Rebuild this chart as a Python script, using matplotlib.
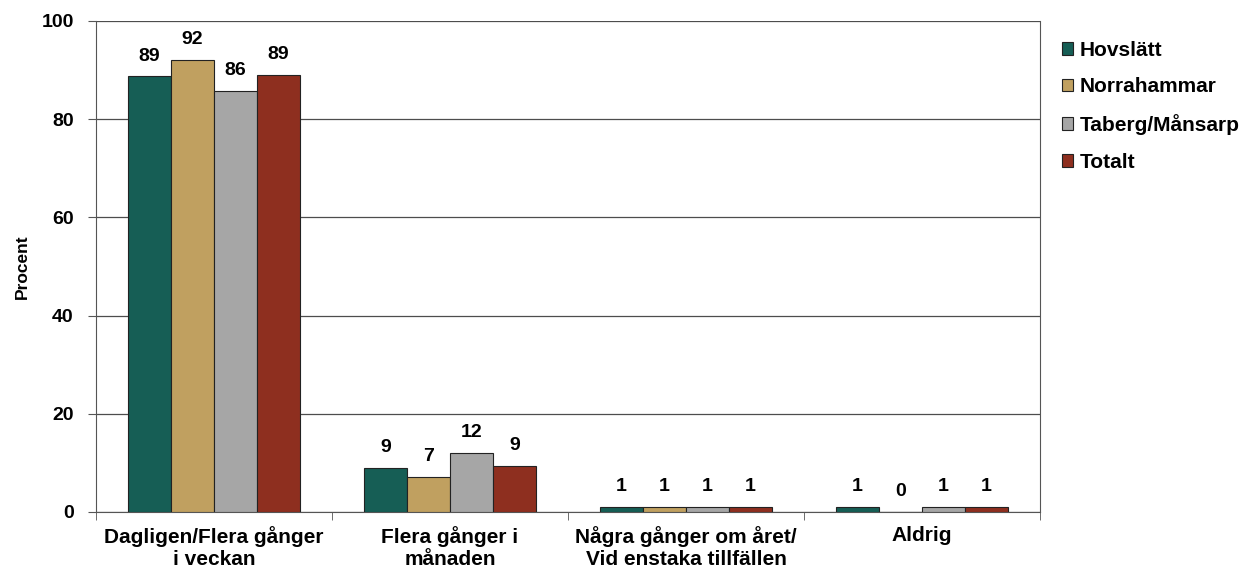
import numpy as np
import matplotlib
matplotlib.use("Agg")
import matplotlib.pyplot as plt

plt.rcParams["font.family"] = ["Liberation Sans", "DejaVu Sans"]
plt.rcParams["font.weight"] = "bold"

# === Data ===
categories = ["Dagligen/Flera gånger\ni veckan", "Flera gånger i\nmånaden",
              "Några gånger om året/\nVid enstaka tillfällen", "Aldrig"]
series_names = ["Hovslätt", "Norrahammar", "Taberg/Månsarp", "Totalt"]
hovslatt = [88.7, 9.0, 1.0, 1.0]
norrahammar = [92.1, 7.1, 1.0, 0.0]
taberg = [85.7, 12.0, 1.0, 1.0]
totalt = [89.0, 9.4, 1.0, 1.0]
colors = ["#165E55", "#C0A060", "#A6A6A6", "#8E2F1F"]

# === Figur ===
fig = plt.figure(figsize=(12.44, 5.72), dpi=100)
ax = fig.add_axes([0.0772, 0.1049, 0.7588, 0.8584])

x = np.arange(len(categories))
w = 0.182
all_series = [hovslatt, norrahammar, taberg, totalt]
for i, (vals, name, c) in enumerate(zip(all_series, series_names, colors)):
    pos = x + (i - 1.5) * w
    ax.bar(pos, vals, width=w, color=c, edgecolor="#222222", linewidth=0.8,
           label=name, zorder=3)
    for p, v in zip(pos, vals):
        ax.annotate(f"{v:.0f}", (p, v), xytext=(0, 8.5), textcoords="offset points",
                    ha="center", va="bottom", fontsize=14, fontweight="bold",
                    bbox=dict(facecolor="white", edgecolor="none", pad=1),
                    zorder=4)

ax.set_xlim(-0.5, 3.5)
ax.set_ylim(0, 100)
ax.set_yticks([0, 20, 40, 60, 80, 100])
ax.yaxis.grid(True, color="#4d4d4d", linewidth=0.9, zorder=0)
ax.set_axisbelow(True)
ax.tick_params(axis="y", labelsize=14, length=6, pad=10, color="#555555")
for t in ax.get_yticklabels():
    t.set_fontweight("bold")

ax.set_xticks(x)
ax.set_xticklabels(categories, fontsize=15, fontweight="bold")
ax.tick_params(axis="x", length=0, pad=10)
ax.set_xticks([-0.5, 0.5, 1.5, 2.5, 3.5], minor=True)
ax.tick_params(axis="x", which="minor", length=6, color="#555555")

ax.set_ylabel("Procent", fontsize=12.5, fontweight="bold")
ax.yaxis.set_label_coords(-0.07, 0.5)

for s in ["left", "right", "bottom"]:
    ax.spines[s].set_color("#555555")
ax.spines["top"].set_visible(False)

leg = ax.legend(loc="upper left", bbox_to_anchor=(1.023, 0.96), frameon=False,
                fontsize=15, handlelength=0.55, handleheight=0.55,
                handletextpad=0.3, labelspacing=0.85, borderpad=0,
                borderaxespad=0)
for t in leg.get_texts():
    t.set_fontweight("bold")

fig.savefig("out.png", dpi=100)
